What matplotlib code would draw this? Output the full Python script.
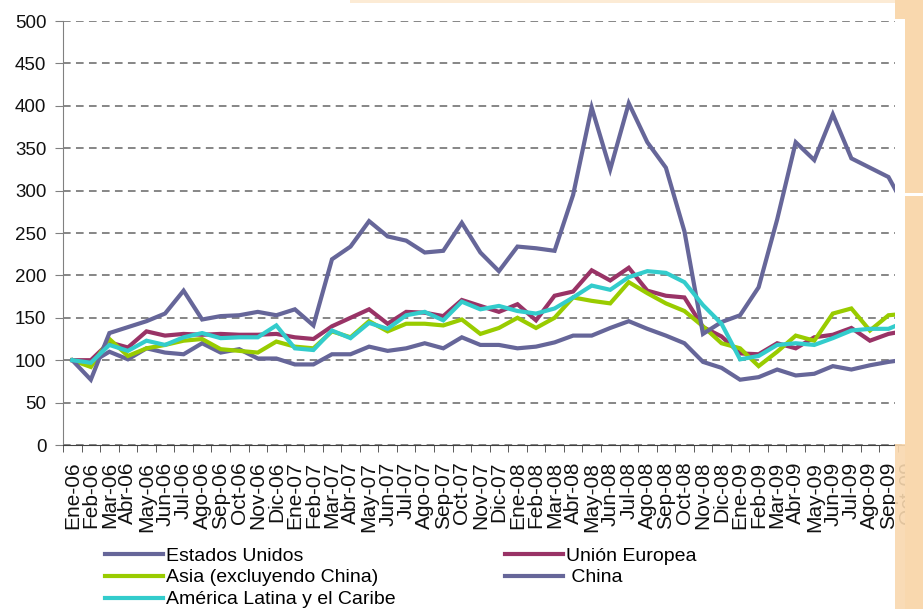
import matplotlib.pyplot as plt
from matplotlib.lines import Line2D
from matplotlib.patches import Rectangle

plt.rcParams["font.family"] = ["Liberation Sans", "DejaVu Sans"]

MONTHS = ["Ene", "Feb", "Mar", "Abr", "May", "Jun",
          "Jul", "Ago", "Sep", "Oct", "Nov", "Dic"]
labels = [f"{m}-{y:02d}" for y in (6, 7, 8, 9) for m in MONTHS][:46]

estados_unidos = [100, 97, 110, 101, 114, 109, 107, 120, 109, 113, 102, 102,
                  95, 95, 107, 107, 116, 111, 114, 120, 114, 127, 118, 118,
                  114, 116, 121, 129, 129, 138, 146, 137, 129, 120, 98, 91,
                  77, 80, 89, 82, 84, 93, 89, 94, 98, 101]
union_europea = [100, 100, 121, 115, 134, 129, 131, 130, 131, 130, 130, 131,
                 127, 125, 140, 150, 160, 143, 157, 156, 152, 171, 164, 157,
                 166, 147, 176, 181, 206, 194, 209, 182, 176, 174, 139, 128,
                 108, 107, 120, 114, 127, 130, 138, 123, 131, 135]
asia = [100, 92, 125, 105, 114, 118, 123, 125, 113, 111, 109, 122,
        116, 114, 134, 127, 146, 134, 143, 143, 141, 148, 131, 138,
        150, 138, 150, 174, 170, 167, 192, 179, 167, 158, 140, 120,
        114, 93, 110, 129, 123, 155, 161, 135, 153, 155]
china = [100, 77, 132, 139, 146, 155, 182, 148, 152, 153, 157, 153,
         160, 141, 219, 234, 264, 246, 241, 227, 229, 262, 227, 205,
         234, 232, 229, 295, 398, 325, 403, 357, 327, 252, 131, 145,
         153, 186, 266, 357, 336, 390, 338, 327, 316, 276]
america_latina = [100, 97, 118, 111, 123, 118, 127, 132, 126, 127, 127, 141,
                  114, 112, 135, 126, 144, 137, 153, 157, 147, 169, 160, 164,
                  158, 155, 161, 174, 188, 183, 198, 205, 203, 192, 165, 143,
                  101, 105, 118, 120, 118, 126, 135, 137, 137, 146]

series = [
    ("Estados Unidos", estados_unidos, "#666699"),
    ("Unión Europea", union_europea, "#993366"),
    ("Asia (excluyendo China)", asia, "#99CC00"),
    ("China", china, "#666699"),
    ("América Latina y el Caribe", america_latina, "#33CCCC"),
]

W, H = 923, 609
fig = plt.figure(figsize=(W / 100, H / 100), dpi=100)
ax = fig.add_axes([63 / W, (H - 445) / H, 46 * 18.55 / W, 424 / H])

x = list(range(len(labels)))
for name, vals, color in series:
    ax.plot(x, vals, color=color, lw=3, solid_joinstyle="miter", zorder=3)

ax.set_xlim(-0.5, len(labels) - 0.5)
ax.set_ylim(0, 500)
ax.set_yticks(range(0, 501, 50))
ax.yaxis.grid(True, linestyle=(0, (5, 3.5)), color="#666666", lw=1.1)
ax.set_axisbelow(True)

ax.set_xticks(x)
ax.set_xticklabels(labels, rotation=90, fontsize=15, color="#111111")
ax.set_xticks([i - 0.5 for i in range(len(labels) + 1)], minor=True)
ax.tick_params(axis="x", which="major", length=0, pad=12)
ax.tick_params(axis="x", which="minor", length=5, color="#404040", direction="out")
ax.tick_params(axis="y", length=6, color="#808080", labelsize=13.5, pad=6,
               labelcolor="#111111")

for side in ("top", "right"):
    ax.spines[side].set_visible(False)
ax.spines["left"].set_color("#808080")
ax.spines["bottom"].set_color("#404040")

# legend: two columns
handles = {n: Line2D([], [], color=c, lw=3) for n, _, c in series}
leg_kw = dict(frameon=False, fontsize=14, handlelength=3.0,
              handletextpad=0.15, labelspacing=0.22, borderaxespad=0,
              borderpad=0)
col1 = ["Estados Unidos", "Asia (excluyendo China)", "América Latina y el Caribe"]
col2 = ["Unión Europea", " China"]
fig.legend([handles[n] for n in col1], col1, loc="upper left",
           bbox_to_anchor=(105 / W, 1 - 547 / H), **leg_kw)
fig.legend([handles["Unión Europea"], handles["China"]], col2, loc="upper left",
           bbox_to_anchor=(505 / W, 1 - 547 / H), **leg_kw)

# page background pieces around the clipped chart
peach = "#F9D8AE"
def rect(x0, y0, x1, y1, color, alpha=1.0):
    fig.patches.append(Rectangle((x0 / W, 1 - y1 / H), (x1 - x0) / W, (y1 - y0) / H,
                                 transform=fig.transFigure, color=color,
                                 alpha=alpha, zorder=10, lw=0))

rect(895, 19, 905, 444, "white")
rect(905, 0, 923, 609, peach)
rect(895, 0, 905, 19, peach)
rect(895, 444, 905, 609, peach, 0.9)
rect(895, 193, 923, 196, "white")
rect(350, 0, 895, 3, "#FCEBD5")

fig.savefig("out.png", dpi=100)
